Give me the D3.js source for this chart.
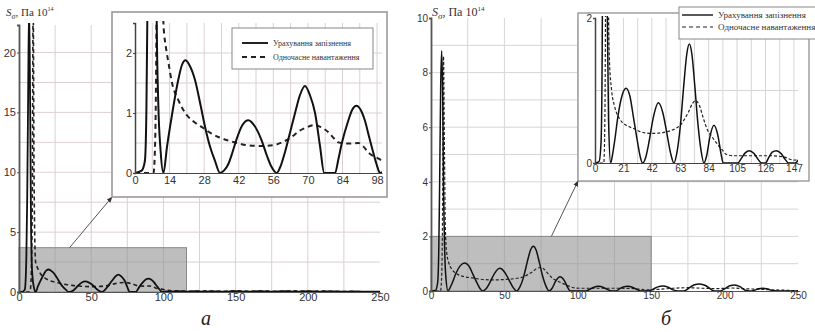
<!DOCTYPE html>
<html>
<head>
<meta charset="utf-8">
<script src="https://cdn.jsdelivr.net/npm/d3@7"></script>
<style>
  body { margin: 0; background: #fff; }
  svg { display: block; }
</style>
</head>
<body>
<svg id="chart" width="815" height="332"></svg>
<script>
// panel "а": [x, S] pairs
const delayA = [
  [0,0],[2.7,0.04],[4,0.2],[4.6,1],[5.1,3],[5.7,8],[6.3,16],[7,24],[7.7,16],[8.3,6],[8.8,2.5],[9.4,1.2],[10.4,0.35],[11.5,0],
  [13,0.45],[14.9,0.95],[17.5,1.55],[19,1.8],[20.5,1.88],[22,1.8],[24.3,1.55],[26.3,1.18],[28.3,0.78],[30.3,0.45],[32.4,0.2],[34.4,0],
  [36,0.04],[37.8,0.15],[39.5,0.35],[41.1,0.56],[43.5,0.8],[45.9,0.88],[48.5,0.78],[51.3,0.54],[53.3,0.3],[55.3,0.1],[57.4,0],
  [59,0.12],[60.8,0.36],[62.8,0.68],[64.8,1.0],[66.8,1.3],[68.8,1.45],[70.8,1.3],[72.9,1.0],[74.9,0.45],[76.6,0],[81,0],
  [82.3,0.22],[83.7,0.49],[86.4,0.88],[88,1.06],[89.7,1.12],[91.4,1.05],[93.1,0.87],[94.8,0.6],[96.4,0.35],[98,0.12],[99.2,0],
  [102,0.05],[105,0.02],[110,0.08],[116,0.02],[122,0.07],[128,0.02],[135,0.06],[142,0.03],[150,0.07],[158,0.02],[166,0.08],
  [175,0.03],[184,0.07],[192,0.03],[200,0.08],[208,0.02],[216,0.06],[225,0.02],[232,0.05],[240,0.02],[250,0.03]
];
const simultA = [
  [0,0],[7.5,0],[8,0.3],[8.6,2],[9.2,8],[9.8,24],[10.4,10],[11,4],[11.5,2.5],[12.5,2.1],[13.5,1.85],[15,1.5],[17.5,1.22],
  [20.9,0.97],[24,0.85],[27.6,0.75],[30.5,0.67],[33.7,0.6],[37,0.55],[40.5,0.51],[45.9,0.46],[51,0.45],[56.7,0.47],[60,0.52],
  [63.4,0.6],[66.5,0.7],[69.5,0.76],[72.9,0.8],[75.5,0.76],[78.3,0.68],[80.5,0.58],[82.4,0.51],[86.4,0.49],[90.5,0.5],[92.5,0.44],
  [94.5,0.34],[98.6,0.24],[102,0.16],[106,0.1],[112,0.08],[120,0.06],[130,0.09],[140,0.05],[150,0.1],[160,0.06],[170,0.08],
  [180,0.05],[190,0.09],[200,0.05],[210,0.08],[220,0.04],[230,0.05],[240,0.02],[250,0.02]
];

// panel "б"
const delayB = [
  [0,0],[3,0.02],[4.5,0.3],[5.3,1.5],[5.9,4],[6.6,7.5],[7.3,8.8],[8,7],[8.6,3.5],[9.1,2],[10,0.6],[11.6,0],
  [13,0.12],[14.5,0.3],[17,0.65],[20,0.93],[22.9,1.03],[25.8,0.92],[28.5,0.62],[31.5,0.28],[33.5,0.08],[35.2,0],
  [37.5,0.08],[40,0.3],[43,0.62],[46.8,0.83],[50.3,0.68],[53,0.42],[55.8,0.14],[58.3,0],
  [60.5,0.14],[63,0.5],[65.5,1.05],[67.8,1.5],[69.7,1.64],[71.6,1.5],[73.8,1.05],[76,0.55],[78.3,0.18],[80.5,0],
  [82.5,0.1],[84.8,0.35],[87.9,0.52],[90.8,0.38],[93,0.14],[94.8,0],
  [105.5,0],[108,0.06],[111,0.14],[114,0.17],[117.5,0.13],[120.5,0.05],[123,0],[126,0],[128.5,0.08],[131,0.15],[134,0.17],
  [137.5,0.13],[140.5,0.05],[143,0],[148,0],[151,0.06],[154.5,0.15],[158,0.18],[161.5,0.14],[165,0.04],[168,0],[172,0],
  [175.5,0.1],[179,0.22],[183,0.26],[187,0.2],[190.5,0.07],[193,0],[197,0],[200,0.08],[203.5,0.19],[207,0.22],[210.5,0.16],
  [214,0.03],[217,0],[220,0.02],[223,0.08],[226,0.1],[229.5,0.07],[233,0.01],[240,0],[250,0]
];
const simultB = [
  [0,0],[6.5,0],[7.3,0.6],[7.9,3],[8.5,8.6],[9.2,5],[9.8,2.3],[10.6,1.45],[12.3,1.0],[14.5,0.78],[18.5,0.6],[23,0.52],
  [28,0.48],[34,0.43],[40,0.41],[45,0.41],[50,0.42],[55,0.44],[60,0.48],[63,0.52],[66,0.6],[69,0.7],[72,0.82],[74.5,0.86],
  [77,0.8],[80,0.62],[83,0.46],[86.5,0.36],[90,0.27],[94,0.18],[97,0.12],[102,0.1],[110,0.1],[120,0.1],[130,0.1],[140,0.08],
  [147,0.04],[155,0.06],[165,0.1],[175,0.12],[185,0.1],[195,0.09],[205,0.11],[215,0.08],[225,0.06],[235,0.04],[245,0.02],[250,0.01]
];

// ticks / zoomed windows
const mainXTicks = [0, 50, 100, 150, 200, 250];
const yTicksA = [0, 5, 10, 15, 20];
const yTicksB = [0, 2, 4, 6, 8, 10];
const insetXTicksA = [0, 14, 28, 42, 56, 70, 84, 98];
const insetXTicksB = [0, 21, 42, 63, 84, 105, 126, 147];
const zoomWindowA = [116, 3.7];
const zoomWindowB = [150, 2];
const legendLabels = ["Урахування запізнення", "Одночасне навантаження"];
const panelLetters = ["а", "б"];

const svg = d3.select("#chart");
const defs = svg.append("defs");
defs.append("marker")
  .attr("id", "arrow")
  .attr("viewBox", "0 0 10 10")
  .attr("refX", 9).attr("refY", 5)
  .attr("markerWidth", 6).attr("markerHeight", 6)
  .attr("orient", "auto")
  .append("path").attr("d", "M0,1L10,5L0,9z").attr("fill", "#333");

const sansFont = "'Liberation Sans', Arial, sans-serif";
const serifFont = "'Liberation Serif', 'Times New Roman', serif";
let clipId = 0;

function clip(x0, y0, x1, y1) {
  const id = "clip" + (clipId++);
  defs.append("clipPath").attr("id", id)
    .append("rect").attr("x", x0).attr("y", y0).attr("width", x1 - x0).attr("height", y1 - y0);
  return "url(#" + id + ")";
}

function drawCurves(g, x, y, solid, dashed, st) {
  const line = d3.line().x(d => x(d[0])).y(d => y(d[1])).curve(d3.curveMonotoneX);
  const cp = clip(x.range()[0], y.range()[1] - 2, x.range()[1], y.range()[0] + 1);
  const cg = g.append("g").attr("clip-path", cp);
  cg.append("path").datum(dashed)
    .attr("fill", "none").attr("stroke", "#222")
    .attr("stroke-width", st.dw).attr("stroke-dasharray", st.dash)
    .attr("d", line);
  cg.append("path").datum(solid)
    .attr("fill", "none").attr("stroke", "#111")
    .attr("stroke-width", st.sw).attr("stroke-linejoin", "round")
    .attr("d", line);
}

function styleAxis(g, color, width, fontSize) {
  g.select(".domain").attr("stroke", color).attr("stroke-width", width);
  g.selectAll(".tick line").attr("stroke", color);
  g.selectAll(".tick text").attr("fill", "#333")
    .style("font-family", sansFont).style("font-size", fontSize + "px");
}

function drawPanel(p) {
  const g = svg.append("g");
  const x = d3.scaleLinear().domain([0, 250]).range(p.xRange);
  const y = d3.scaleLinear().domain([0, p.yMax]).range(p.yRange);
  const fmt = d3.format("d");

  // grid
  g.append("g").selectAll("line").data(d3.range(25, 250, 25)).join("line")
    .attr("x1", d => x(d)).attr("x2", d => x(d))
    .attr("y1", y.range()[1]).attr("y2", y.range()[0])
    .attr("stroke", p.gridColor).attr("stroke-width", 1);
  g.append("g").selectAll("line").data(p.yGrid).join("line")
    .attr("x1", x.range()[0]).attr("x2", x.range()[1])
    .attr("y1", d => y(d)).attr("y2", d => y(d))
    .attr("stroke", p.gridColor).attr("stroke-width", 1);

  // zoomed window
  g.append("rect")
    .attr("x", x(0)).attr("y", y(p.zoom[1]))
    .attr("width", x(p.zoom[0]) - x(0)).attr("height", y(0) - y(p.zoom[1]))
    .attr("fill", "#8f8f8f").attr("fill-opacity", 0.58)
    .attr("stroke", "#888").attr("stroke-width", 1);

  drawCurves(g, x, y, p.solid, p.dashed, p.mainStyle);

  const xa = g.append("g").attr("transform", `translate(0,${y(0)})`)
    .call(d3.axisBottom(x).tickValues(mainXTicks).tickFormat(fmt).tickSize(0).tickPadding(p.xPad));
  styleAxis(xa, "#555", 1.2, p.mainFont);
  const ya = g.append("g").attr("transform", `translate(${x(0)},0)`)
    .call(d3.axisLeft(y).tickValues(p.yTicks).tickFormat(fmt).tickSize(2).tickPadding(1));
  styleAxis(ya, "#555", 1.8, p.mainFont);

  // title
  const t = g.append("text").attr("x", p.title[0]).attr("y", p.title[1])
    .attr("fill", "#333").style("font-family", serifFont).style("font-size", p.titleSize + "px");
  t.append("tspan").text("S").style("font-style", "italic");
  t.append("tspan").text("σ").attr("dy", 3).style("font-size", (p.titleSize - 3) + "px").style("font-style", "italic");
  t.append("tspan").text(", Па 10").attr("dy", -3);
  t.append("tspan").text("14").attr("dy", -5).style("font-size", (p.titleSize - 5) + "px");

  // pointer to inset
  g.append("line")
    .attr("x1", x(p.pointerFrom)).attr("y1", y(p.zoom[1]))
    .attr("x2", p.box.x).attr("y2", p.box.y + p.box.h)
    .attr("stroke", "#555").attr("stroke-width", 1)
    .attr("marker-end", "url(#arrow)");

  // inset
  const b = p.box;
  g.append("rect").attr("x", b.x).attr("y", b.y).attr("width", b.w).attr("height", b.h)
    .attr("fill", "#fff").attr("stroke", p.boxColor).attr("stroke-width", p.boxWidth);

  const ix = d3.scaleLinear().domain([0, p.zoomX]).range(p.inX);
  const iy = d3.scaleLinear().domain([0, p.zoomY]).range(p.inY);
  g.append("g").selectAll("line").data(p.inXGrid).join("line")
    .attr("x1", d => ix(d)).attr("x2", d => ix(d))
    .attr("y1", iy.range()[1]).attr("y2", iy.range()[0])
    .attr("stroke", p.gridColor).attr("stroke-width", 1);
  g.append("g").selectAll("line").data(p.inYGrid).join("line")
    .attr("x1", ix.range()[0]).attr("x2", ix.range()[1])
    .attr("y1", d => iy(d)).attr("y2", d => iy(d))
    .attr("stroke", p.gridColor).attr("stroke-width", 1);

  drawCurves(g, ix, iy, p.solid, p.dashed, p.inStyle);

  const ixa = g.append("g").attr("transform", `translate(0,${iy(0)})`)
    .call(d3.axisBottom(ix).tickValues(p.inXTicks).tickFormat(fmt).tickSize(0).tickPadding(p.inXPad));
  styleAxis(ixa, "#444", 1.2, p.inFont);
  const iya = g.append("g").attr("transform", `translate(${ix(0)},0)`)
    .call(d3.axisLeft(iy).tickValues(p.inYTicks).tickFormat(fmt).tickSize(2).tickPadding(1));
  styleAxis(iya, "#444", 1.5, p.inFont);

  // legend
  const L = p.legend;
  const lg = g.append("g");
  lg.append("rect").attr("x", L.x).attr("y", L.y).attr("width", L.w).attr("height", L.h)
    .attr("fill", "#fff").attr("stroke", "#888").attr("stroke-width", 1);
  legendLabels.forEach((lab, i) => {
    const yy = L.y + L.row0 + i * L.step;
    lg.append("line").attr("x1", L.x + L.l0).attr("x2", L.x + L.l1).attr("y1", yy).attr("y2", yy)
      .attr("stroke", "#222").attr("stroke-width", i ? p.inStyle.dw : p.inStyle.sw)
      .attr("stroke-dasharray", i ? L.dash : null);
    lg.append("text").attr("x", L.x + L.l1 + 5).attr("y", yy + 3)
      .attr("fill", "#333").style("font-family", serifFont).style("font-size", L.font + "px")
      .text(lab);
  });

  svg.append("text").attr("x", p.letter[0]).attr("y", p.letter[1])
    .attr("text-anchor", "middle").attr("fill", "#222")
    .style("font-family", serifFont).style("font-style", "italic").style("font-size", "20px")
    .text(p.letterText);
}

drawPanel({
  solid: delayA, dashed: simultA,
  xRange: [19, 380], yRange: [292, 25], yMax: 22.3,
  yTicks: yTicksA, yGrid: d3.range(2.5, 22, 2.5),
  gridColor: "#dcd0d0", mainFont: 11, xPad: 1,
  zoom: zoomWindowA, pointerFrom: 35,
  mainStyle: { sw: 1.8, dw: 1.6, dash: "4,3" },
  title: [6, 16], titleSize: 11,
  box: { x: 112, y: 12, w: 275, h: 185 }, boxColor: "#999", boxWidth: 1.6,
  zoomX: 100, zoomY: 2.5, inX: [135, 382], inY: [173, 23],
  inXGrid: d3.range(7, 99, 7), inYGrid: [0.5, 1, 1.5, 2],
  inXTicks: insetXTicksA, inYTicks: [0, 1, 2], inFont: 11, inXPad: 3,
  inStyle: { sw: 2, dw: 2, dash: "5,4" },
  legend: { x: 232, y: 28, w: 141, h: 41, row0: 15, step: 14, l0: 10, l1: 36, font: 8, dash: "5,4" },
  letter: [206, 325], letterText: panelLetters[0]
});

drawPanel({
  solid: delayB, dashed: simultB,
  xRange: [431, 798], yRange: [291, 18], yMax: 10,
  yTicks: yTicksB, yGrid: d3.range(1, 10, 1),
  gridColor: "#d6d6d6", mainFont: 10, xPad: 1,
  zoom: zoomWindowB, pointerFrom: 82,
  mainStyle: { sw: 1.5, dw: 1.2, dash: "3,2" },
  title: [432, 16], titleSize: 12,
  box: { x: 578, y: 13, w: 231, h: 168 }, boxColor: "#888", boxWidth: 1.2,
  zoomX: 150, zoomY: 2, inX: [595, 798], inY: [163, 18],
  inXGrid: d3.range(10.5, 148, 10.5), inYGrid: [1],
  inXTicks: insetXTicksB, inYTicks: [0, 2], inFont: 10, inXPad: 2,
  inStyle: { sw: 1.5, dw: 1.2, dash: "3,2" },
  legend: { x: 679, y: 7, w: 140, h: 32, row0: 8, step: 12, l0: 3, l1: 34, font: 9, dash: "4,3" },
  letter: [666, 325], letterText: panelLetters[1]
});
</script>
</body>
</html>
